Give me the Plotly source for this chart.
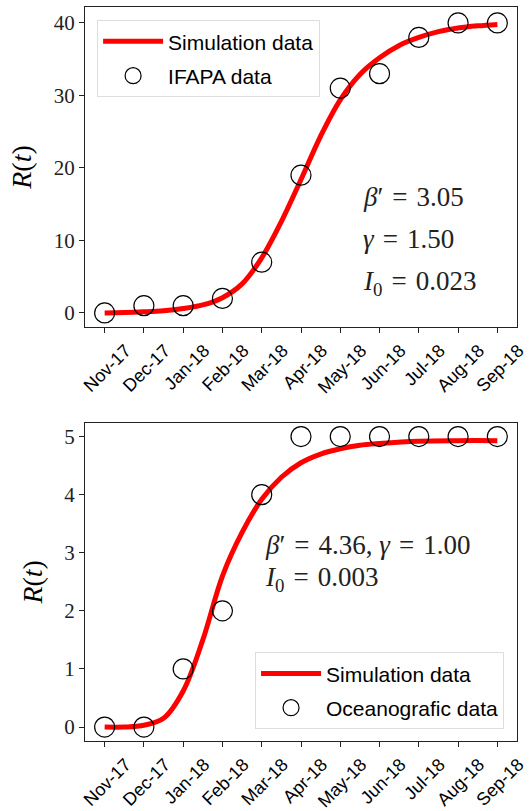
import plotly.graph_objects as go

months = ["Nov-17", "Dec-17", "Jan-18", "Feb-18", "Mar-18", "Apr-18",
          "May-18", "Jun-18", "Jul-18", "Aug-18", "Sep-18"]
month_idx = list(range(len(months)))

# Top panel (IFAPA)
ifapa_data = [0, 1, 1, 2, 7, 19, 31, 33, 38, 40, 40]
sim1_t = [0, 0.5, 1, 1.5, 2, 2.5, 3, 3.5, 4, 4.5, 5, 5.5, 6, 6.5, 7, 7.5, 8, 8.5, 9, 9.5, 10]
sim1_r = [0.0, 0.05, 0.15, 0.3, 0.6, 1.1, 2.1, 4.0, 7.6, 12.6, 18.4, 24.4, 29.4, 32.9, 35.2, 36.9, 38.0, 38.8, 39.3, 39.6, 39.8]

# Bottom panel (Oceanografic)
ocean_data = [0, 0, 1, 2, 4, 5, 5, 5, 5, 5, 5]
sim2_t = [0, 0.5, 1, 1.5, 2, 2.5, 3, 3.5, 4, 4.5, 5, 5.5, 6, 6.5, 7, 8, 9, 10]
sim2_r = [0.0, 0.0, 0.03, 0.15, 0.62, 1.5, 2.6, 3.35, 3.92, 4.3, 4.55, 4.7, 4.79, 4.85, 4.88, 4.92, 4.93, 4.93]

RED = "#ff0000"
SANS = "Liberation Sans"
SERIF = "Liberation Serif"

fig = go.Figure()

fig.add_trace(go.Scatter(x=sim1_t, y=sim1_r, mode="lines", name="Simulation data",
                         line=dict(color=RED, width=5, shape="spline"),
                         xaxis="x", yaxis="y", legend="legend", legendgroup="a"))
fig.add_trace(go.Scatter(x=month_idx, y=ifapa_data, mode="markers", name="IFAPA data",
                         marker=dict(symbol="circle-open", size=20, color="black", line=dict(width=1.2)),
                         xaxis="x", yaxis="y", legend="legend", legendgroup="b"))

fig.add_trace(go.Scatter(x=sim2_t, y=sim2_r, mode="lines", name="Simulation data",
                         line=dict(color=RED, width=5, shape="spline"),
                         xaxis="x2", yaxis="y2", legend="legend2", legendgroup="c"))
fig.add_trace(go.Scatter(x=month_idx, y=ocean_data, mode="markers", name="Oceanografic data",
                         marker=dict(symbol="circle-open", size=20, color="black", line=dict(width=1.2)),
                         xaxis="x2", yaxis="y2", legend="legend2", legendgroup="d"))

xcommon = dict(tickmode="array", tickvals=month_idx, ticktext=months, tickangle=-45,
               range=[-0.5, 10.5], showline=True, mirror=True, linecolor="#222", linewidth=1,
               ticks="outside", ticklen=5, tickcolor="#222", showgrid=False, zeroline=False,
               tickfont=dict(family=SANS, size=18, color="black"), ticklabelshift=21,
               ticklabeloverflow="allow", automargin=False)
ycommon = dict(showline=True, mirror=True, linecolor="#222", linewidth=1,
               ticks="outside", ticklen=5, tickcolor="#222", showgrid=False, zeroline=False,
               tickfont=dict(family=SERIF, size=21, color="#222"), automargin=False,
               title=dict(text="<i>R</i>(<i>t</i>)", font=dict(family=SERIF, size=28, color="black"), standoff=13))

fig.update_layout(
    width=530, height=811,
    margin=dict(l=85, r=13, t=7, b=70),
    plot_bgcolor="white", paper_bgcolor="white",
    xaxis=dict(domain=[0, 1], anchor="y", **xcommon),
    yaxis=dict(domain=[0.564, 1], anchor="x", range=[-1.95, 42.2], tickvals=[0, 10, 20, 30, 40], **ycommon),
    xaxis2=dict(domain=[0, 1], anchor="y2", **xcommon),
    yaxis2=dict(domain=[0, 0.4337], anchor="x2", range=[-0.24, 5.24], tickvals=[0, 1, 2, 3, 4, 5], **ycommon),
    legend=dict(x=0.028, y=0.982, xanchor="left", yanchor="top", bgcolor="white",
                bordercolor="#dddddd", borderwidth=1, font=dict(family=SANS, size=21, color="black"),
                tracegroupgap=4, itemsizing="trace", itemwidth=60),
    legend2=dict(x=0.97, y=0.016, xanchor="right", yanchor="bottom", bgcolor="white",
                 bordercolor="#dddddd", borderwidth=1, font=dict(family=SANS, size=21, color="black"),
                 tracegroupgap=4, itemsizing="trace", itemwidth=60),
)

EQ = "\u2004=\u2004"
afont = dict(family=SERIF, size=27, color="#222")
for txt, yy in [("<i>β</i>′" + EQ + "3.05", 16.0), ("<i>γ</i>" + EQ + "1.50", 10.2),
                ("<i>I</i><sub>0</sub>" + EQ + "0.023", 4.1)]:
    fig.add_annotation(x=6.52, y=yy, xref="x", yref="y", text=txt, showarrow=False,
                       xanchor="left", yanchor="middle", font=afont)
for txt, yy in [("<i>β</i>′" + EQ + "4.36, <i>γ</i>" + EQ + "1.00", 3.13),
                ("<i>I</i><sub>0</sub>" + EQ + "0.003", 2.55)]:
    fig.add_annotation(x=4.02, y=yy, xref="x2", yref="y2", text=txt, showarrow=False,
                       xanchor="left", yanchor="middle", font=afont)

fig.write_html("out.html", config={"displayModeBar": False},
               post_script="document.body.style.margin='0';document.body.style.overflow='hidden';")
